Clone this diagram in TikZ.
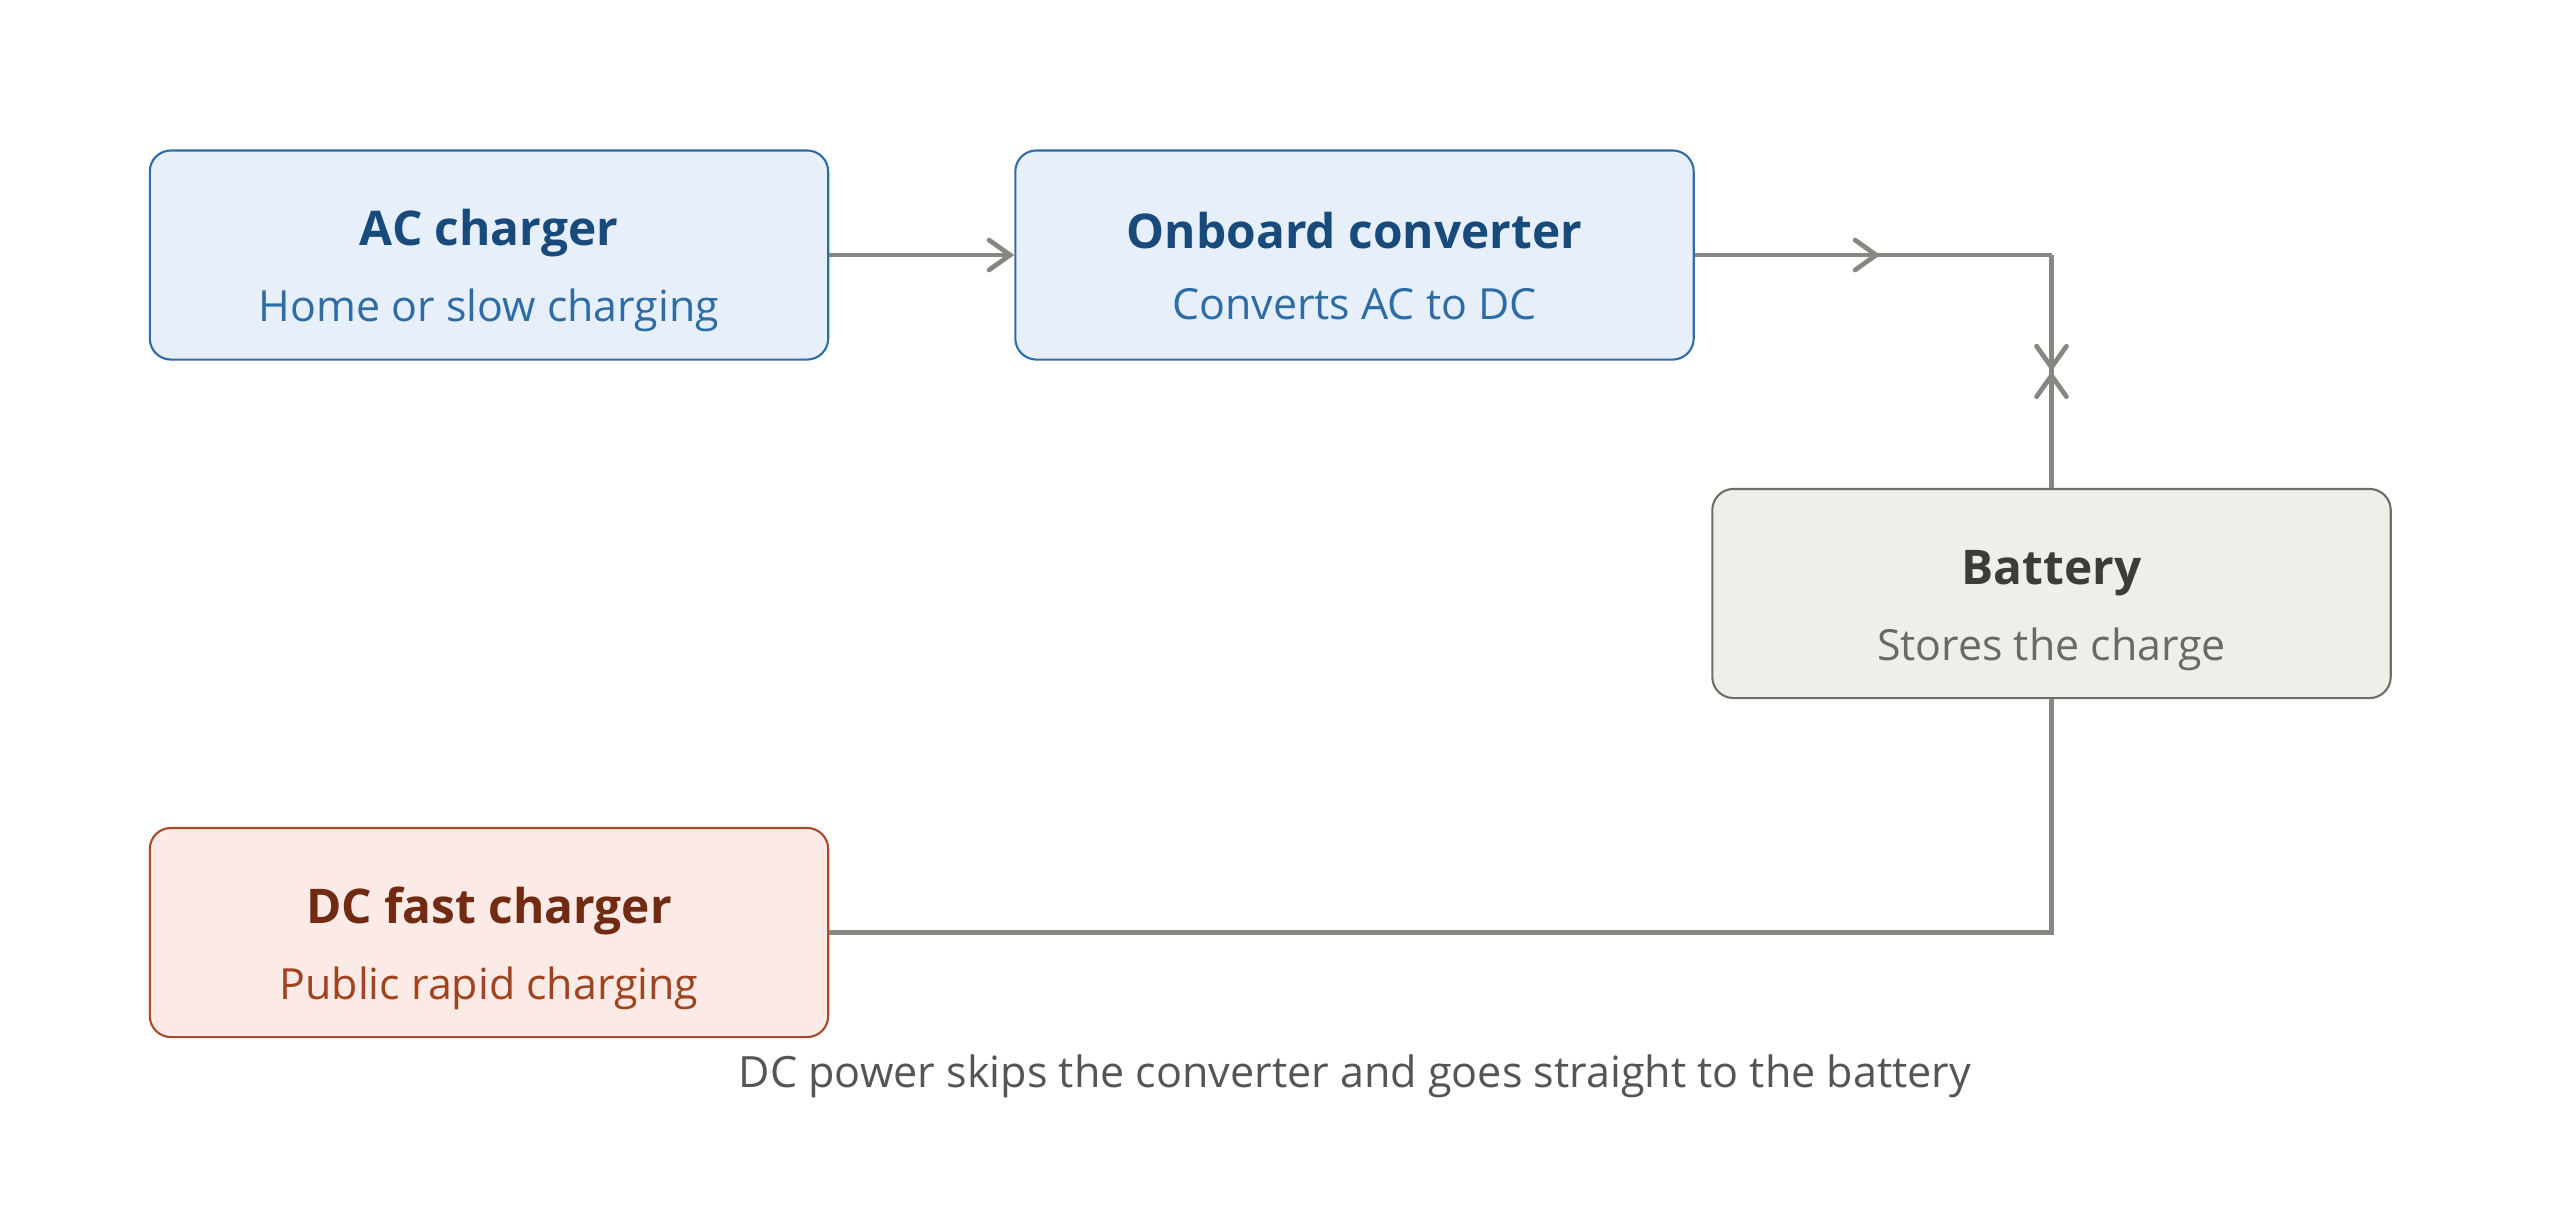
\documentclass[tikz,border=0pt]{standalone}
\usepackage{fontspec}
\setmainfont{Open Sans}
\usetikzlibrary{arrows.meta,decorations.markings}
\definecolor{acfill}{HTML}{E7F0FA}
\definecolor{acdraw}{HTML}{2F6CA8}
\definecolor{actitle}{HTML}{184A7C}
\definecolor{acsub}{HTML}{2E6CA6}
\definecolor{batfill}{HTML}{EFEEE9}
\definecolor{batdraw}{HTML}{6E6E69}
\definecolor{battitle}{HTML}{3D3D38}
\definecolor{batsub}{HTML}{6A6A65}
\definecolor{dcfill}{HTML}{FBEAE6}
\definecolor{dcdraw}{HTML}{A84A2B}
\definecolor{dctitle}{HTML}{712B13}
\definecolor{dcsub}{HTML}{A0431F}
\definecolor{wire}{HTML}{878782}
\definecolor{captxt}{HTML}{555555}
\newcommand{\boxtext}[4]{\rule{0pt}{20pt}\color{#1}\fontsize{13.6}{16}\selectfont\bfseries #2\\[8pt]\color{#3}\fontsize{12.2}{14}\selectfont #4\rule[-3.6pt]{0pt}{1pt}}
\tikzset{
  box/.style={rounded corners=6pt, line width=0.6pt, minimum width=6.78cm, minimum height=2.09cm, align=center, inner sep=0pt},
  acbox/.style={box, fill=acfill, draw=acdraw},
  batbox/.style={box, fill=batfill, draw=batdraw},
  dcbox/.style={box, fill=dcfill, draw=dcdraw},
  barb/.tip={Straight Barb[length=6pt,width=8.5pt,line cap=round,line width=1.35pt]},
  wireline/.style={draw=wire, line width=1.35pt},
}
\begin{document}
\begin{tikzpicture}[x=0.01cm,y=-0.01cm]
\useasboundingbox (0,0) rectangle (2560,1205);
\node[acbox] (ac) at (489,255) {\boxtext{actitle}{AC charger}{acsub}{Home or slow charging}};
\node[acbox] (conv) at (1354.5,255) {\boxtext{actitle}{Onboard converter}{acsub}{Converts AC to DC}};
\node[batbox] (bat) at (2051.5,593.5) {\boxtext{battitle}{Battery}{batsub}{Stores the charge}};
\node[dcbox] (dc) at (489,932.5) {\boxtext{dctitle}{DC fast charger}{dcsub}{Public rapid charging}};
\node[text=captxt, font=\fontsize{12.25}{14}\selectfont] (cap) at (1355,1076) {DC power skips the converter and goes straight to the battery};

\coordinate (c1) at (bat.north |- conv.east);
\coordinate (c2) at (bat.south |- dc.east);
\draw[wireline, -barb] (ac.east) -- (conv.west);
\draw[wireline, postaction={decorate}, decoration={markings, mark=at position 0.52 with {\arrow{barb}}}] (conv.east) -- (c1);
\draw[wireline, postaction={decorate}, decoration={markings, mark=at position 0.5 with {\arrow{barb}\arrowreversed{barb}}}] (c1) -- (bat.north);
\draw[wireline] (dc.east) -- (c2) -- (bat.south);
\end{tikzpicture}
\end{document}
